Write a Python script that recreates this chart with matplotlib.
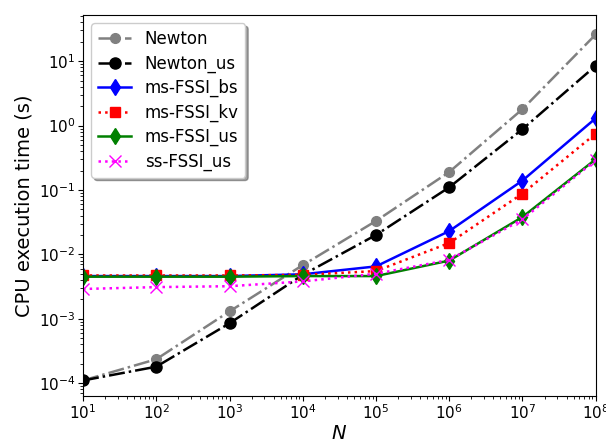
import matplotlib
matplotlib.use("Agg")
import matplotlib.pyplot as plt

N = [1e1, 1e2, 1e3, 1e4, 1e5, 1e6, 1e7, 1e8]

newton = [1.1e-4, 2.35e-4, 1.3e-3, 6.8e-3, 0.033, 0.19, 1.8, 26]
newton_us = [1.1e-4, 1.8e-4, 8.5e-4, 4.8e-3, 0.02, 0.11, 0.88, 8.5]
ms_bs = [4.6e-3, 4.6e-3, 4.6e-3, 4.9e-3, 6.5e-3, 0.023, 0.14, 1.3]
ms_kv = [4.7e-3, 4.7e-3, 4.7e-3, 4.8e-3, 5.5e-3, 0.015, 0.088, 0.75]
ms_us = [4.5e-3, 4.5e-3, 4.5e-3, 4.6e-3, 4.6e-3, 8.0e-3, 0.038, 0.30]
ss_us = [2.9e-3, 3.1e-3, 3.2e-3, 3.8e-3, 5.0e-3, 8.2e-3, 0.035, 0.29]


def main():
    fig, ax = plt.subplots(figsize=(6.06, 4.44), dpi=100)

    ax.plot(N, newton, '-.', color='gray', marker='o', markersize=7, lw=1.8, label='Newton')
    ax.plot(N, newton_us, '-.', color='black', marker='o', markersize=8, lw=1.8, label='Newton_us')
    ax.plot(N, ms_bs, '-', color='blue', marker='d', markersize=8, lw=1.8, label='ms-FSSI_bs')
    ax.plot(N, ms_kv, ':', color='red', marker='s', markersize=7, lw=1.8, label='ms-FSSI_kv')
    ax.plot(N, ms_us, '-', color='green', marker='d', markersize=8, lw=1.8, label='ms-FSSI_us')
    ax.plot(N, ss_us, ':', color='magenta', marker='x', markersize=8, lw=1.8, label='ss-FSSI_us')

    ax.set_xscale('log')
    ax.set_yscale('log')
    ax.set_xlim(1e1, 1e8)
    ax.set_ylim(6.3e-5, 52)
    ax.tick_params(labelsize=11, pad=2)
    ax.set_xlabel('$N$', fontsize=14, labelpad=1)
    ax.set_ylabel('CPU execution time (s)', fontsize=14)

    ax.legend(loc='upper left', fontsize=12, shadow=True, fancybox=True,
              framealpha=1, labelspacing=0.38)

    fig.subplots_adjust(left=0.137, right=0.983, top=0.966, bottom=0.108)
    fig.savefig('out.png', dpi=100)


if __name__ == "__main__":
    main()
